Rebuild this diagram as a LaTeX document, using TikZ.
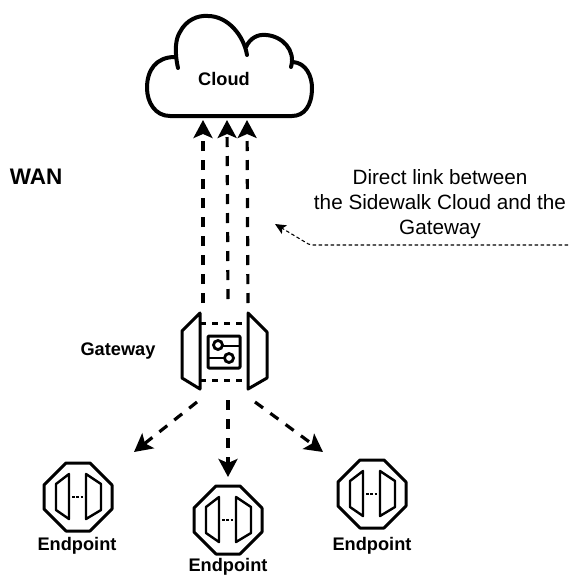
\documentclass[tikz,border=0pt]{standalone}
\usepackage{fontspec}
\setmainfont{Liberation Sans}
\usetikzlibrary{arrows.meta}
\tikzset{
  x=1pt,y=-1pt,
  icon/.style={line width=2.4pt,line join=round,black},
  flow/.style={line width=3.2pt,dash pattern=on 10pt off 9pt,-{Stealth[length=18pt,width=19pt,inset=4pt]}},
  note/.style={line width=1.1pt,dash pattern=on 3.5pt off 2.5pt,-{Stealth[length=11pt,width=10pt,inset=2.5pt]}},
  boldlabel/.style={font=\bfseries\fontsize{18.2}{22}\selectfont,inner sep=0pt},
  plain/.style={font=\fontsize{20.7}{25}\selectfont,align=center,inner sep=0pt},
  endpointicon/.pic={
    \draw[icon,line width=3pt] (-12,-34) -- (12,-34) -- (34,-12) -- (34,12) -- (12,34) -- (-12,34) -- (-34,12) -- (-34,-12) -- cycle;
    \draw[icon] (-9,-23) -- (-22,-13) -- (-22,13) -- (-9,22) -- cycle;
    \draw[icon] (8,-23) -- (23,-13) -- (23,13) -- (8,22) -- cycle;
    \draw[line width=2.8pt,dash pattern=on 2.5pt off 1.8pt] (-6,0) -- (6,0);
  }
}
\begin{document}
\begin{tikzpicture}
\useasboundingbox (0,0) rectangle (568,576);
% cloud
\draw[line width=4pt,line cap=round,line join=round]
  (178,68) .. controls (174,50) and (176,38) .. (180,32)
  .. controls (186,20) and (198,15) .. (208,16)
  .. controls (228,16) and (244,36) .. (247,55);
\draw[line width=4pt,line cap=round,line join=round]
  (246,47) .. controls (250,38) and (258,34) .. (266,35)
  .. controls (282,36) and (296,50) .. (291,67);
\draw[line width=4pt,line cap=round,line join=round]
  (293,62) .. controls (306,63) and (312,76) .. (312,88)
  .. controls (312,106) and (304,116) .. (292,116)
  -- (170,116)
  .. controls (155,116) and (147,102) .. (147,88)
  .. controls (147,70) and (156,57) .. (175,57);
\node[boldlabel] (cloud) at (224,79) {Cloud};
% anchor coordinates
\coordinate (cl) at (203,120);
\coordinate (cm) at (227,120);
\coordinate (cr) at (247,120);
\coordinate (gl) at (203,303);
\coordinate (gm) at (228,299);
\coordinate (gr) at (248,303);
\coordinate (gbl) at (197,402);
\coordinate (gbm) at (228,400);
\coordinate (gbr) at (255,402);
\coordinate (el) at (134,452);
\coordinate (em) at (228,477);
\coordinate (er) at (323,452);
\draw[flow] (gl) -- (cl);
\draw[flow] (gm) -- (cm);
\draw[flow] (gr) -- (cr);
\draw[flow] (gbl) -- (el);
\draw[flow] (gbm) -- (em);
\draw[flow] (gbr) -- (er);
% gateway
\draw[icon,line width=3pt] (200,313) -- (182,331) -- (182,378) -- (200,389) -- cycle;
\draw[icon,line width=3pt] (248,313) -- (267,332) -- (267,378) -- (248,389) -- cycle;
\draw[line width=3pt,dash pattern=on 6pt off 6pt] (200,323) -- (248,323);
\draw[line width=3pt,dash pattern=on 6pt off 6pt] (200,380) -- (248,380);
\draw[icon,line width=3pt,rounded corners=1pt] (208,336) rectangle (240,368);
\draw[line width=2.2pt] (218,346) -- (240,346);
\draw[line width=2.2pt] (208,358) -- (229,358);
\draw[line width=2.8pt,fill=white] (218,345) circle (4.5);
\draw[line width=2.8pt,fill=white] (229,358) circle (4.5);
\node[boldlabel] (gw) at (118,351) {Gateway};
% endpoints
\pic at (78,497) {endpointicon};
\pic at (228,520) {endpointicon};
\pic at (372,494) {endpointicon};
\node[boldlabel] (e1) at (77,546) {Endpoint};
\node[boldlabel] (e2) at (228,567) {Endpoint};
\node[boldlabel] (e3) at (372,546) {Endpoint};
\node[boldlabel,font=\bfseries\fontsize{22.5}{26}\selectfont] (wan) at (36,177) {WAN};
\node[plain] (txt) at (440,204) {Direct link between\\the Sidewalk Cloud and the\\Gateway};
\coordinate (ns) at (568,245);
\coordinate (nc) at (310,245);
\coordinate (ne) at (275,224);
\draw[note,rounded corners=2pt] (ns) -- (nc) -- (ne);
\end{tikzpicture}
\end{document}
